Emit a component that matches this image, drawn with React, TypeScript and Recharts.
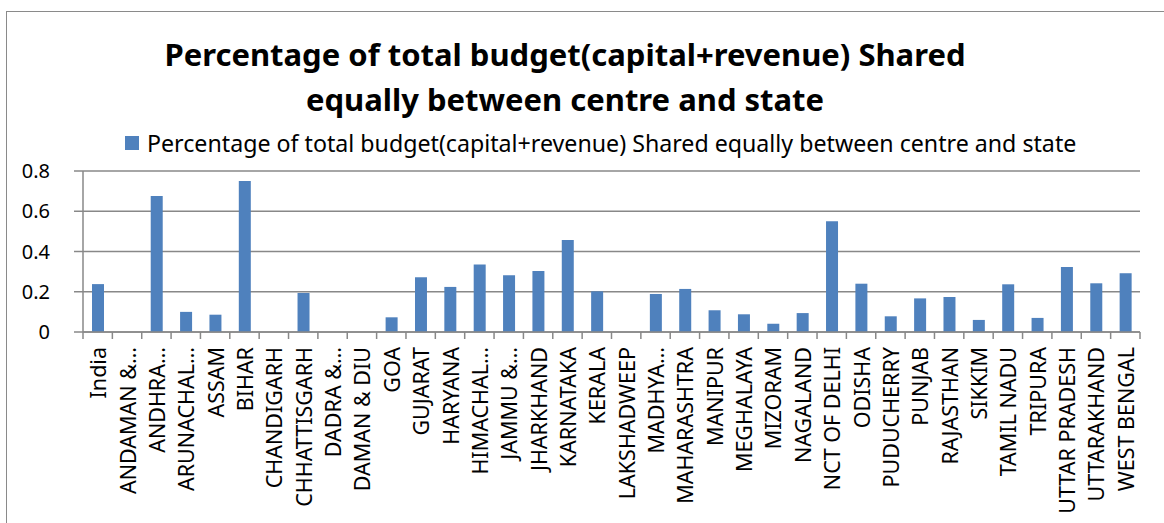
import React from "react";
import { BarChart, Bar, XAxis, YAxis, CartesianGrid } from "recharts";

// Labels as they appear on the axis (Excel truncated the long ones)
const STATES = [
  "India",
  "ANDAMAN &…",
  "ANDHRA…",
  "ARUNACHAL…",
  "ASSAM",
  "BIHAR",
  "CHANDIGARH",
  "CHHATTISGARH",
  "DADRA &…",
  "DAMAN & DIU",
  "GOA",
  "GUJARAT",
  "HARYANA",
  "HIMACHAL…",
  "JAMMU &…",
  "JHARKHAND",
  "KARNATAKA",
  "KERALA",
  "LAKSHADWEEP",
  "MADHYA…",
  "MAHARASHTRA",
  "MANIPUR",
  "MEGHALAYA",
  "MIZORAM",
  "NAGALAND",
  "NCT OF DELHI",
  "ODISHA",
  "PUDUCHERRY",
  "PUNJAB",
  "RAJASTHAN",
  "SIKKIM",
  "TAMIL NADU",
  "TRIPURA",
  "UTTAR PRADESH",
  "UTTARAKHAND",
  "WEST BENGAL",
];

const SHARE = [
  0.238, 0, 0.676, 0.1, 0.086, 0.75, 0, 0.194, 0, 0, 0.073, 0.272, 0.224,
  0.336, 0.282, 0.303, 0.457, 0.202, 0, 0.189, 0.214, 0.108, 0.088, 0.041,
  0.094, 0.55, 0.24, 0.078, 0.167, 0.174, 0.06, 0.237, 0.07, 0.323, 0.242,
  0.292,
];

const Y_TICKS = [0, 0.2, 0.4, 0.6, 0.8];

const SERIES = "Percentage of total budget(capital+revenue) Shared equally between centre and state";

const data = STATES.map((state, i) => ({ state, share: SHARE[i] }));

const W = 1164;
const H = 523;
const M = { top: 171, right: 24, left: 0, bottom: 11 };
const Y_W = 83;
const STEP = (W - M.left - M.right - Y_W) / STATES.length;
const FONT = "'Noto Sans', 'Open Sans', sans-serif";
const GRID = "#888888";
const BLUE = "#4f81bd";

// Excel puts the x tick marks between categories, so draw them from the tick
function StateTick(props: any) {
  const { x, y, payload, index } = props;
  const last = index === STATES.length - 1;
  return (
    <g>
      <line x1={x - STEP / 2} y1={y - 8} x2={x - STEP / 2} y2={y - 1} stroke={GRID} strokeWidth={1.5} />
      {last && (
        <line x1={x + STEP / 2} y1={y - 8} x2={x + STEP / 2} y2={y - 1} stroke={GRID} strokeWidth={1.5} />
      )}
      <text
        x={x}
        y={y + 7}
        transform={`rotate(-90, ${x}, ${y + 7})`}
        textAnchor="end"
        dominantBaseline="central"
        fill="#000"
        fontSize={21.5}
        fontFamily={FONT}
      >
        {payload.value}
      </text>
    </g>
  );
}

export default function App() {
  return (
    <div style={{ position: "absolute", left: 0, top: 0, width: W, height: H, background: "#fff", overflow: "hidden" }}>
      <div
        style={{
          position: "absolute",
          left: 6,
          top: 11,
          width: W,
          height: H,
          border: "1.5px solid #8a8a8a",
        }}
      />
      <div
        style={{
          position: "absolute",
          left: 100,
          width: 930,
          top: 32,
          textAlign: "center",
          fontFamily: FONT,
          fontWeight: 700,
          fontSize: 31,
          lineHeight: "45px",
          color: "#000",
        }}
      >
        Percentage of total budget(capital+revenue) Shared
        <br />
        equally between centre and state
      </div>
      <div
        style={{
          position: "absolute",
          left: 125,
          top: 128,
          display: "flex",
          alignItems: "center",
          fontFamily: FONT,
          fontSize: 23.2,
          lineHeight: "30px",
          color: "#000",
          whiteSpace: "nowrap",
        }}
      >
        <span style={{ display: "inline-block", width: 14, height: 14, background: BLUE, marginRight: 8 }} />
        {SERIES}
      </div>
      <BarChart width={W} height={H} data={data} margin={M} barSize={12}>
        <CartesianGrid vertical={false} stroke={GRID} strokeWidth={1.5} />
        <XAxis
          dataKey="state"
          interval={0}
          height={180}
          tickLine={false}
          axisLine={{ stroke: GRID, strokeWidth: 1.5 }}
          tick={<StateTick />}
        />
        <YAxis
          width={Y_W}
          domain={[0, 0.8]}
          ticks={Y_TICKS}
          tickFormatter={(v: number) => String(v)}
          axisLine={{ stroke: GRID, strokeWidth: 1.5 }}
          tickLine={{ stroke: GRID, strokeWidth: 1.5 }}
          tickSize={9}
          tickMargin={24}
          tick={{ fill: "#000", fontSize: 20, fontFamily: FONT }}
        />
        <Bar dataKey="share" name={SERIES} fill={BLUE} isAnimationActive={false} />
      </BarChart>
    </div>
  );
}
